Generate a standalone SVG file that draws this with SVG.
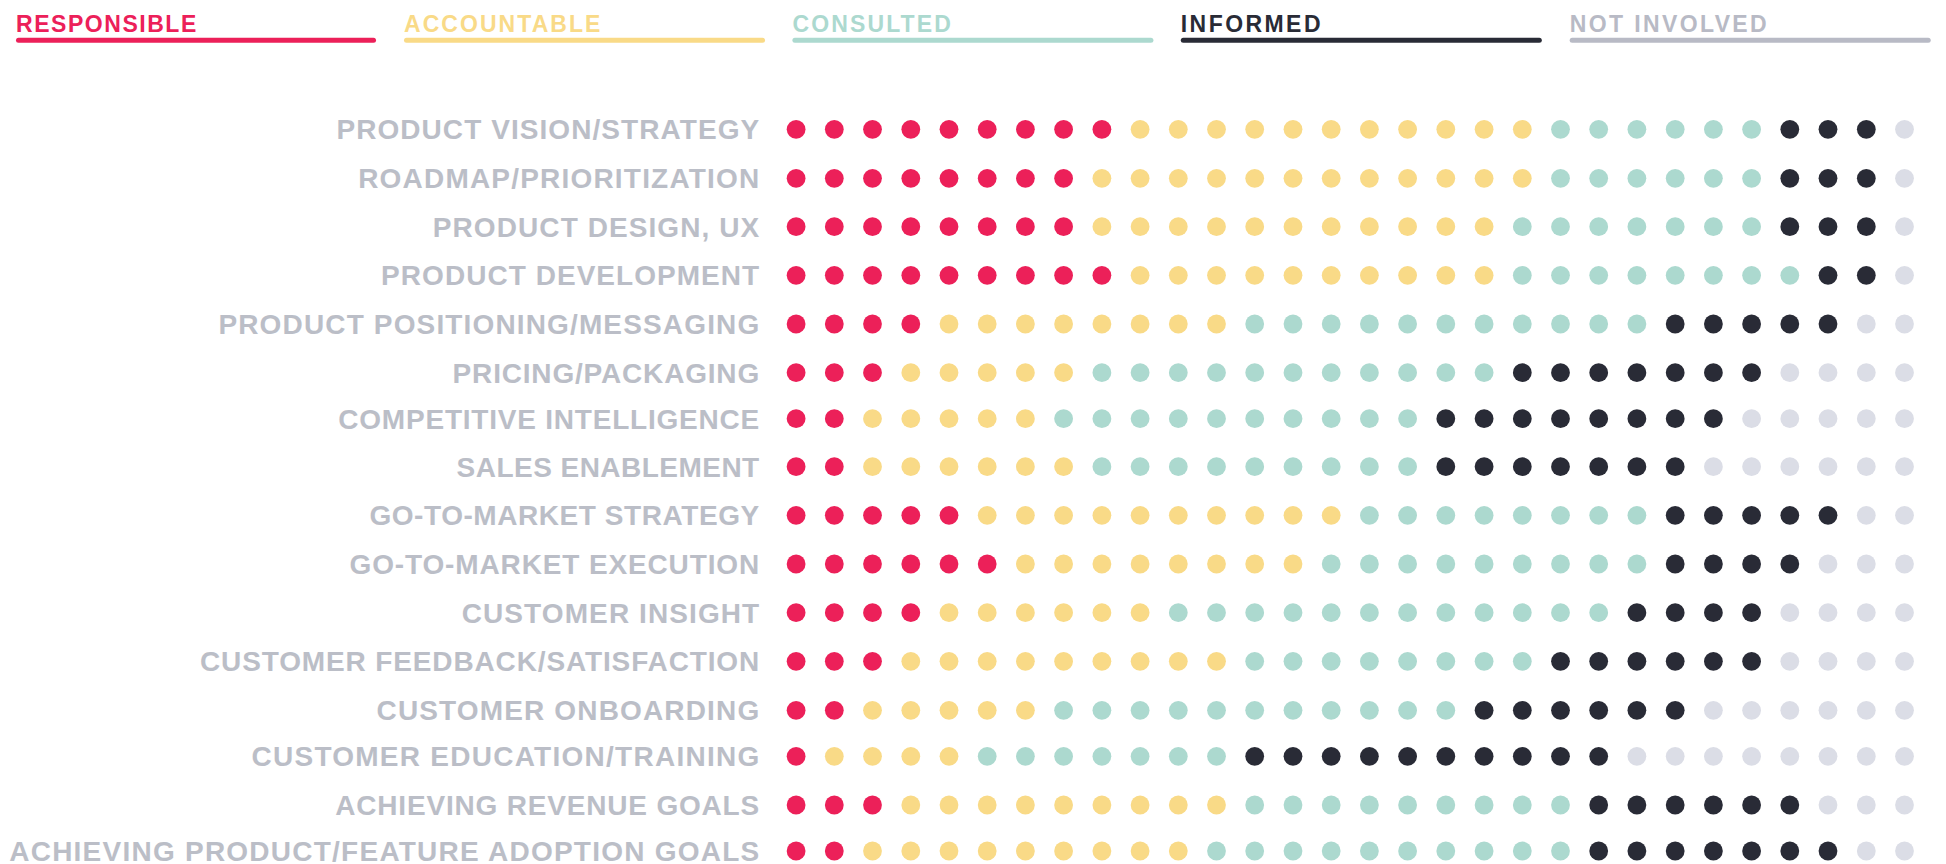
<svg xmlns="http://www.w3.org/2000/svg" width="1946" height="864" viewBox="0 0 1946 864">
<style>
.lg{font-family:"Liberation Sans",Arial,sans-serif;font-weight:bold;font-size:23px}
.lb{font-family:"Liberation Sans",Arial,sans-serif;font-weight:bold;font-size:28px;fill:#BBBEC7;text-anchor:end}
circle{r:9.4px}
.r{fill:#EC2059}.y{fill:#F9DA87}.c{fill:#ACD9CF}.i{fill:#292B36}.n{fill:#DBDDE6}
.tr{fill:#EC2059}.ty{fill:#F9DA87}.tc{fill:#ACD9CF}.ti{fill:#292B36}.tn{fill:#B8BAC5}
</style>
<rect width="1946" height="864" fill="#FFFFFF"/>
<g id="legend">
<g id="legend-responsible"><text class="lg tr" x="16" y="31.5" textLength="180.3" lengthAdjust="spacing">RESPONSIBLE</text><rect class="tr" x="16" y="37.7" width="360" height="5" rx="2.5"/></g>
<g id="legend-accountable"><text class="lg ty" x="404" y="31.5" textLength="196.4" lengthAdjust="spacing">ACCOUNTABLE</text><rect class="ty" x="404" y="37.7" width="361" height="5" rx="2.5"/></g>
<g id="legend-consulted"><text class="lg tc" x="792.4" y="31.5" textLength="158.5" lengthAdjust="spacing">CONSULTED</text><rect class="tc" x="792.4" y="37.7" width="361" height="5" rx="2.5"/></g>
<g id="legend-informed"><text class="lg ti" x="1180.8" y="31.5" textLength="139.7" lengthAdjust="spacing">INFORMED</text><rect class="ti" x="1180.8" y="37.7" width="361" height="5" rx="2.5"/></g>
<g id="legend-not-involved"><text class="lg tn" x="1569.7" y="31.5" textLength="197" lengthAdjust="spacing">NOT INVOLVED</text><rect class="tn" x="1569.7" y="37.7" width="361" height="5" rx="2.5"/></g>
</g>
<g id="row-01" transform="translate(0,129.3)"><text class="lb" x="759.2" y="10" textLength="422.8" lengthAdjust="spacing">PRODUCT VISION/STRATEGY</text>
<circle class="r" cx="796.1"/><circle class="r" cx="834.3"/><circle class="r" cx="872.5"/><circle class="r" cx="910.8"/><circle class="r" cx="949"/><circle class="r" cx="987.2"/><circle class="r" cx="1025.4"/><circle class="r" cx="1063.6"/><circle class="r" cx="1101.9"/><circle class="y" cx="1140.1"/><circle class="y" cx="1178.3"/><circle class="y" cx="1216.5"/><circle class="y" cx="1254.7"/><circle class="y" cx="1293"/><circle class="y" cx="1331.2"/><circle class="y" cx="1369.4"/><circle class="y" cx="1407.6"/><circle class="y" cx="1445.8"/><circle class="y" cx="1484.1"/><circle class="y" cx="1522.3"/><circle class="c" cx="1560.5"/><circle class="c" cx="1598.7"/><circle class="c" cx="1636.9"/><circle class="c" cx="1675.2"/><circle class="c" cx="1713.4"/><circle class="c" cx="1751.6"/><circle class="i" cx="1789.8"/><circle class="i" cx="1828"/><circle class="i" cx="1866.3"/><circle class="n" cx="1904.5"/></g>
<g id="row-02" transform="translate(0,178.3)"><text class="lb" x="759.2" y="10" textLength="401" lengthAdjust="spacing">ROADMAP/PRIORITIZATION</text>
<circle class="r" cx="796.1"/><circle class="r" cx="834.3"/><circle class="r" cx="872.5"/><circle class="r" cx="910.8"/><circle class="r" cx="949"/><circle class="r" cx="987.2"/><circle class="r" cx="1025.4"/><circle class="r" cx="1063.6"/><circle class="y" cx="1101.9"/><circle class="y" cx="1140.1"/><circle class="y" cx="1178.3"/><circle class="y" cx="1216.5"/><circle class="y" cx="1254.7"/><circle class="y" cx="1293"/><circle class="y" cx="1331.2"/><circle class="y" cx="1369.4"/><circle class="y" cx="1407.6"/><circle class="y" cx="1445.8"/><circle class="y" cx="1484.1"/><circle class="y" cx="1522.3"/><circle class="c" cx="1560.5"/><circle class="c" cx="1598.7"/><circle class="c" cx="1636.9"/><circle class="c" cx="1675.2"/><circle class="c" cx="1713.4"/><circle class="c" cx="1751.6"/><circle class="i" cx="1789.8"/><circle class="i" cx="1828"/><circle class="i" cx="1866.3"/><circle class="n" cx="1904.5"/></g>
<g id="row-03" transform="translate(0,226.7)"><text class="lb" x="759.2" y="10" textLength="326.4" lengthAdjust="spacing">PRODUCT DESIGN, UX</text>
<circle class="r" cx="796.1"/><circle class="r" cx="834.3"/><circle class="r" cx="872.5"/><circle class="r" cx="910.8"/><circle class="r" cx="949"/><circle class="r" cx="987.2"/><circle class="r" cx="1025.4"/><circle class="r" cx="1063.6"/><circle class="y" cx="1101.9"/><circle class="y" cx="1140.1"/><circle class="y" cx="1178.3"/><circle class="y" cx="1216.5"/><circle class="y" cx="1254.7"/><circle class="y" cx="1293"/><circle class="y" cx="1331.2"/><circle class="y" cx="1369.4"/><circle class="y" cx="1407.6"/><circle class="y" cx="1445.8"/><circle class="y" cx="1484.1"/><circle class="c" cx="1522.3"/><circle class="c" cx="1560.5"/><circle class="c" cx="1598.7"/><circle class="c" cx="1636.9"/><circle class="c" cx="1675.2"/><circle class="c" cx="1713.4"/><circle class="c" cx="1751.6"/><circle class="i" cx="1789.8"/><circle class="i" cx="1828"/><circle class="i" cx="1866.3"/><circle class="n" cx="1904.5"/></g>
<g id="row-04" transform="translate(0,275.3)"><text class="lb" x="759.2" y="10" textLength="378.1" lengthAdjust="spacing">PRODUCT DEVELOPMENT</text>
<circle class="r" cx="796.1"/><circle class="r" cx="834.3"/><circle class="r" cx="872.5"/><circle class="r" cx="910.8"/><circle class="r" cx="949"/><circle class="r" cx="987.2"/><circle class="r" cx="1025.4"/><circle class="r" cx="1063.6"/><circle class="r" cx="1101.9"/><circle class="y" cx="1140.1"/><circle class="y" cx="1178.3"/><circle class="y" cx="1216.5"/><circle class="y" cx="1254.7"/><circle class="y" cx="1293"/><circle class="y" cx="1331.2"/><circle class="y" cx="1369.4"/><circle class="y" cx="1407.6"/><circle class="y" cx="1445.8"/><circle class="y" cx="1484.1"/><circle class="c" cx="1522.3"/><circle class="c" cx="1560.5"/><circle class="c" cx="1598.7"/><circle class="c" cx="1636.9"/><circle class="c" cx="1675.2"/><circle class="c" cx="1713.4"/><circle class="c" cx="1751.6"/><circle class="c" cx="1789.8"/><circle class="i" cx="1828"/><circle class="i" cx="1866.3"/><circle class="n" cx="1904.5"/></g>
<g id="row-05" transform="translate(0,324)"><text class="lb" x="759.2" y="10" textLength="540.8" lengthAdjust="spacing">PRODUCT POSITIONING/MESSAGING</text>
<circle class="r" cx="796.1"/><circle class="r" cx="834.3"/><circle class="r" cx="872.5"/><circle class="r" cx="910.8"/><circle class="y" cx="949"/><circle class="y" cx="987.2"/><circle class="y" cx="1025.4"/><circle class="y" cx="1063.6"/><circle class="y" cx="1101.9"/><circle class="y" cx="1140.1"/><circle class="y" cx="1178.3"/><circle class="y" cx="1216.5"/><circle class="c" cx="1254.7"/><circle class="c" cx="1293"/><circle class="c" cx="1331.2"/><circle class="c" cx="1369.4"/><circle class="c" cx="1407.6"/><circle class="c" cx="1445.8"/><circle class="c" cx="1484.1"/><circle class="c" cx="1522.3"/><circle class="c" cx="1560.5"/><circle class="c" cx="1598.7"/><circle class="c" cx="1636.9"/><circle class="i" cx="1675.2"/><circle class="i" cx="1713.4"/><circle class="i" cx="1751.6"/><circle class="i" cx="1789.8"/><circle class="i" cx="1828"/><circle class="n" cx="1866.3"/><circle class="n" cx="1904.5"/></g>
<g id="row-06" transform="translate(0,372.7)"><text class="lb" x="759.2" y="10" textLength="306.6" lengthAdjust="spacing">PRICING/PACKAGING</text>
<circle class="r" cx="796.1"/><circle class="r" cx="834.3"/><circle class="r" cx="872.5"/><circle class="y" cx="910.8"/><circle class="y" cx="949"/><circle class="y" cx="987.2"/><circle class="y" cx="1025.4"/><circle class="y" cx="1063.6"/><circle class="c" cx="1101.9"/><circle class="c" cx="1140.1"/><circle class="c" cx="1178.3"/><circle class="c" cx="1216.5"/><circle class="c" cx="1254.7"/><circle class="c" cx="1293"/><circle class="c" cx="1331.2"/><circle class="c" cx="1369.4"/><circle class="c" cx="1407.6"/><circle class="c" cx="1445.8"/><circle class="c" cx="1484.1"/><circle class="i" cx="1522.3"/><circle class="i" cx="1560.5"/><circle class="i" cx="1598.7"/><circle class="i" cx="1636.9"/><circle class="i" cx="1675.2"/><circle class="i" cx="1713.4"/><circle class="i" cx="1751.6"/><circle class="n" cx="1789.8"/><circle class="n" cx="1828"/><circle class="n" cx="1866.3"/><circle class="n" cx="1904.5"/></g>
<g id="row-07" transform="translate(0,418.7)"><text class="lb" x="759.2" y="10" textLength="420.9" lengthAdjust="spacing">COMPETITIVE INTELLIGENCE</text>
<circle class="r" cx="796.1"/><circle class="r" cx="834.3"/><circle class="y" cx="872.5"/><circle class="y" cx="910.8"/><circle class="y" cx="949"/><circle class="y" cx="987.2"/><circle class="y" cx="1025.4"/><circle class="c" cx="1063.6"/><circle class="c" cx="1101.9"/><circle class="c" cx="1140.1"/><circle class="c" cx="1178.3"/><circle class="c" cx="1216.5"/><circle class="c" cx="1254.7"/><circle class="c" cx="1293"/><circle class="c" cx="1331.2"/><circle class="c" cx="1369.4"/><circle class="c" cx="1407.6"/><circle class="i" cx="1445.8"/><circle class="i" cx="1484.1"/><circle class="i" cx="1522.3"/><circle class="i" cx="1560.5"/><circle class="i" cx="1598.7"/><circle class="i" cx="1636.9"/><circle class="i" cx="1675.2"/><circle class="i" cx="1713.4"/><circle class="n" cx="1751.6"/><circle class="n" cx="1789.8"/><circle class="n" cx="1828"/><circle class="n" cx="1866.3"/><circle class="n" cx="1904.5"/></g>
<g id="row-08" transform="translate(0,466.7)"><text class="lb" x="759.2" y="10" textLength="302.6" lengthAdjust="spacing">SALES ENABLEMENT</text>
<circle class="r" cx="796.1"/><circle class="r" cx="834.3"/><circle class="y" cx="872.5"/><circle class="y" cx="910.8"/><circle class="y" cx="949"/><circle class="y" cx="987.2"/><circle class="y" cx="1025.4"/><circle class="y" cx="1063.6"/><circle class="c" cx="1101.9"/><circle class="c" cx="1140.1"/><circle class="c" cx="1178.3"/><circle class="c" cx="1216.5"/><circle class="c" cx="1254.7"/><circle class="c" cx="1293"/><circle class="c" cx="1331.2"/><circle class="c" cx="1369.4"/><circle class="c" cx="1407.6"/><circle class="i" cx="1445.8"/><circle class="i" cx="1484.1"/><circle class="i" cx="1522.3"/><circle class="i" cx="1560.5"/><circle class="i" cx="1598.7"/><circle class="i" cx="1636.9"/><circle class="i" cx="1675.2"/><circle class="n" cx="1713.4"/><circle class="n" cx="1751.6"/><circle class="n" cx="1789.8"/><circle class="n" cx="1828"/><circle class="n" cx="1866.3"/><circle class="n" cx="1904.5"/></g>
<g id="row-09" transform="translate(0,515.3)"><text class="lb" x="759.2" y="10" textLength="389.8" lengthAdjust="spacing">GO-TO-MARKET STRATEGY</text>
<circle class="r" cx="796.1"/><circle class="r" cx="834.3"/><circle class="r" cx="872.5"/><circle class="r" cx="910.8"/><circle class="r" cx="949"/><circle class="y" cx="987.2"/><circle class="y" cx="1025.4"/><circle class="y" cx="1063.6"/><circle class="y" cx="1101.9"/><circle class="y" cx="1140.1"/><circle class="y" cx="1178.3"/><circle class="y" cx="1216.5"/><circle class="y" cx="1254.7"/><circle class="y" cx="1293"/><circle class="y" cx="1331.2"/><circle class="c" cx="1369.4"/><circle class="c" cx="1407.6"/><circle class="c" cx="1445.8"/><circle class="c" cx="1484.1"/><circle class="c" cx="1522.3"/><circle class="c" cx="1560.5"/><circle class="c" cx="1598.7"/><circle class="c" cx="1636.9"/><circle class="i" cx="1675.2"/><circle class="i" cx="1713.4"/><circle class="i" cx="1751.6"/><circle class="i" cx="1789.8"/><circle class="i" cx="1828"/><circle class="n" cx="1866.3"/><circle class="n" cx="1904.5"/></g>
<g id="row-10" transform="translate(0,564)"><text class="lb" x="759.2" y="10" textLength="409.7" lengthAdjust="spacing">GO-TO-MARKET EXECUTION</text>
<circle class="r" cx="796.1"/><circle class="r" cx="834.3"/><circle class="r" cx="872.5"/><circle class="r" cx="910.8"/><circle class="r" cx="949"/><circle class="r" cx="987.2"/><circle class="y" cx="1025.4"/><circle class="y" cx="1063.6"/><circle class="y" cx="1101.9"/><circle class="y" cx="1140.1"/><circle class="y" cx="1178.3"/><circle class="y" cx="1216.5"/><circle class="y" cx="1254.7"/><circle class="y" cx="1293"/><circle class="c" cx="1331.2"/><circle class="c" cx="1369.4"/><circle class="c" cx="1407.6"/><circle class="c" cx="1445.8"/><circle class="c" cx="1484.1"/><circle class="c" cx="1522.3"/><circle class="c" cx="1560.5"/><circle class="c" cx="1598.7"/><circle class="c" cx="1636.9"/><circle class="i" cx="1675.2"/><circle class="i" cx="1713.4"/><circle class="i" cx="1751.6"/><circle class="i" cx="1789.8"/><circle class="n" cx="1828"/><circle class="n" cx="1866.3"/><circle class="n" cx="1904.5"/></g>
<g id="row-11" transform="translate(0,612.7)"><text class="lb" x="759.2" y="10" textLength="297.5" lengthAdjust="spacing">CUSTOMER INSIGHT</text>
<circle class="r" cx="796.1"/><circle class="r" cx="834.3"/><circle class="r" cx="872.5"/><circle class="r" cx="910.8"/><circle class="y" cx="949"/><circle class="y" cx="987.2"/><circle class="y" cx="1025.4"/><circle class="y" cx="1063.6"/><circle class="y" cx="1101.9"/><circle class="y" cx="1140.1"/><circle class="c" cx="1178.3"/><circle class="c" cx="1216.5"/><circle class="c" cx="1254.7"/><circle class="c" cx="1293"/><circle class="c" cx="1331.2"/><circle class="c" cx="1369.4"/><circle class="c" cx="1407.6"/><circle class="c" cx="1445.8"/><circle class="c" cx="1484.1"/><circle class="c" cx="1522.3"/><circle class="c" cx="1560.5"/><circle class="c" cx="1598.7"/><circle class="i" cx="1636.9"/><circle class="i" cx="1675.2"/><circle class="i" cx="1713.4"/><circle class="i" cx="1751.6"/><circle class="n" cx="1789.8"/><circle class="n" cx="1828"/><circle class="n" cx="1866.3"/><circle class="n" cx="1904.5"/></g>
<g id="row-12" transform="translate(0,661.3)"><text class="lb" x="759.2" y="10" textLength="559.2" lengthAdjust="spacing">CUSTOMER FEEDBACK/SATISFACTION</text>
<circle class="r" cx="796.1"/><circle class="r" cx="834.3"/><circle class="r" cx="872.5"/><circle class="y" cx="910.8"/><circle class="y" cx="949"/><circle class="y" cx="987.2"/><circle class="y" cx="1025.4"/><circle class="y" cx="1063.6"/><circle class="y" cx="1101.9"/><circle class="y" cx="1140.1"/><circle class="y" cx="1178.3"/><circle class="y" cx="1216.5"/><circle class="c" cx="1254.7"/><circle class="c" cx="1293"/><circle class="c" cx="1331.2"/><circle class="c" cx="1369.4"/><circle class="c" cx="1407.6"/><circle class="c" cx="1445.8"/><circle class="c" cx="1484.1"/><circle class="c" cx="1522.3"/><circle class="i" cx="1560.5"/><circle class="i" cx="1598.7"/><circle class="i" cx="1636.9"/><circle class="i" cx="1675.2"/><circle class="i" cx="1713.4"/><circle class="i" cx="1751.6"/><circle class="n" cx="1789.8"/><circle class="n" cx="1828"/><circle class="n" cx="1866.3"/><circle class="n" cx="1904.5"/></g>
<g id="row-13" transform="translate(0,710.3)"><text class="lb" x="759.2" y="10" textLength="382.7" lengthAdjust="spacing">CUSTOMER ONBOARDING</text>
<circle class="r" cx="796.1"/><circle class="r" cx="834.3"/><circle class="y" cx="872.5"/><circle class="y" cx="910.8"/><circle class="y" cx="949"/><circle class="y" cx="987.2"/><circle class="y" cx="1025.4"/><circle class="c" cx="1063.6"/><circle class="c" cx="1101.9"/><circle class="c" cx="1140.1"/><circle class="c" cx="1178.3"/><circle class="c" cx="1216.5"/><circle class="c" cx="1254.7"/><circle class="c" cx="1293"/><circle class="c" cx="1331.2"/><circle class="c" cx="1369.4"/><circle class="c" cx="1407.6"/><circle class="c" cx="1445.8"/><circle class="i" cx="1484.1"/><circle class="i" cx="1522.3"/><circle class="i" cx="1560.5"/><circle class="i" cx="1598.7"/><circle class="i" cx="1636.9"/><circle class="i" cx="1675.2"/><circle class="n" cx="1713.4"/><circle class="n" cx="1751.6"/><circle class="n" cx="1789.8"/><circle class="n" cx="1828"/><circle class="n" cx="1866.3"/><circle class="n" cx="1904.5"/></g>
<g id="row-14" transform="translate(0,756.3)"><text class="lb" x="759.2" y="10" textLength="507.7" lengthAdjust="spacing">CUSTOMER EDUCATION/TRAINING</text>
<circle class="r" cx="796.1"/><circle class="y" cx="834.3"/><circle class="y" cx="872.5"/><circle class="y" cx="910.8"/><circle class="y" cx="949"/><circle class="c" cx="987.2"/><circle class="c" cx="1025.4"/><circle class="c" cx="1063.6"/><circle class="c" cx="1101.9"/><circle class="c" cx="1140.1"/><circle class="c" cx="1178.3"/><circle class="c" cx="1216.5"/><circle class="i" cx="1254.7"/><circle class="i" cx="1293"/><circle class="i" cx="1331.2"/><circle class="i" cx="1369.4"/><circle class="i" cx="1407.6"/><circle class="i" cx="1445.8"/><circle class="i" cx="1484.1"/><circle class="i" cx="1522.3"/><circle class="i" cx="1560.5"/><circle class="i" cx="1598.7"/><circle class="n" cx="1636.9"/><circle class="n" cx="1675.2"/><circle class="n" cx="1713.4"/><circle class="n" cx="1751.6"/><circle class="n" cx="1789.8"/><circle class="n" cx="1828"/><circle class="n" cx="1866.3"/><circle class="n" cx="1904.5"/></g>
<g id="row-15" transform="translate(0,805)"><text class="lb" x="759.2" y="10" textLength="424" lengthAdjust="spacing">ACHIEVING REVENUE GOALS</text>
<circle class="r" cx="796.1"/><circle class="r" cx="834.3"/><circle class="r" cx="872.5"/><circle class="y" cx="910.8"/><circle class="y" cx="949"/><circle class="y" cx="987.2"/><circle class="y" cx="1025.4"/><circle class="y" cx="1063.6"/><circle class="y" cx="1101.9"/><circle class="y" cx="1140.1"/><circle class="y" cx="1178.3"/><circle class="y" cx="1216.5"/><circle class="c" cx="1254.7"/><circle class="c" cx="1293"/><circle class="c" cx="1331.2"/><circle class="c" cx="1369.4"/><circle class="c" cx="1407.6"/><circle class="c" cx="1445.8"/><circle class="c" cx="1484.1"/><circle class="c" cx="1522.3"/><circle class="c" cx="1560.5"/><circle class="i" cx="1598.7"/><circle class="i" cx="1636.9"/><circle class="i" cx="1675.2"/><circle class="i" cx="1713.4"/><circle class="i" cx="1751.6"/><circle class="i" cx="1789.8"/><circle class="n" cx="1828"/><circle class="n" cx="1866.3"/><circle class="n" cx="1904.5"/></g>
<g id="row-16" transform="translate(0,851)"><text class="lb" x="759.2" y="10" textLength="750" lengthAdjust="spacing">ACHIEVING PRODUCT/FEATURE ADOPTION GOALS</text>
<circle class="r" cx="796.1"/><circle class="r" cx="834.3"/><circle class="y" cx="872.5"/><circle class="y" cx="910.8"/><circle class="y" cx="949"/><circle class="y" cx="987.2"/><circle class="y" cx="1025.4"/><circle class="y" cx="1063.6"/><circle class="y" cx="1101.9"/><circle class="y" cx="1140.1"/><circle class="y" cx="1178.3"/><circle class="c" cx="1216.5"/><circle class="c" cx="1254.7"/><circle class="c" cx="1293"/><circle class="c" cx="1331.2"/><circle class="c" cx="1369.4"/><circle class="c" cx="1407.6"/><circle class="c" cx="1445.8"/><circle class="c" cx="1484.1"/><circle class="c" cx="1522.3"/><circle class="c" cx="1560.5"/><circle class="i" cx="1598.7"/><circle class="i" cx="1636.9"/><circle class="i" cx="1675.2"/><circle class="i" cx="1713.4"/><circle class="i" cx="1751.6"/><circle class="i" cx="1789.8"/><circle class="i" cx="1828"/><circle class="n" cx="1866.3"/><circle class="n" cx="1904.5"/></g>
</svg>
